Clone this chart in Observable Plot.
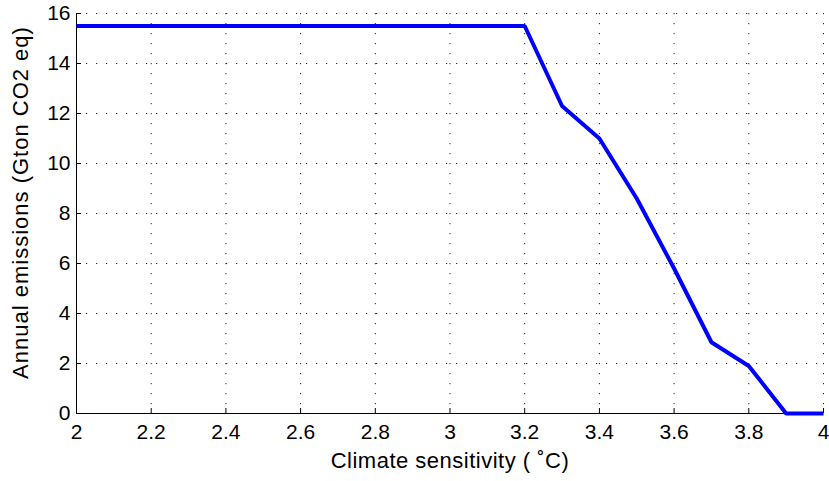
<!DOCTYPE html>
<html>
<head>
<meta charset="utf-8">
<script src="https://cdn.jsdelivr.net/npm/d3@7"></script>
<script src="https://cdn.jsdelivr.net/npm/@observablehq/plot@0.6"></script>
<style>
  html, body { margin: 0; padding: 0; background: #fff; }
  #chart svg { display: block; }
  #chart svg text { font-family: 'Liberation Sans', Arial, Helvetica, sans-serif; }
  .y-title text { letter-spacing: 1px; }
  .x-title text { letter-spacing: 0.5px; }
</style>
</head>
<body>
<div id="chart"></div>
<script>
const sensitivity = [2.0, 2.1, 2.2, 2.3, 2.4, 2.5, 2.6, 2.7, 2.8, 2.9, 3.0, 3.1, 3.2, 3.3, 3.4, 3.5, 3.6, 3.7, 3.8, 3.9, 4.0];
const emissions   = [15.5, 15.5, 15.5, 15.5, 15.5, 15.5, 15.5, 15.5, 15.5, 15.5, 15.5, 15.5, 15.5, 12.3, 11.0, 8.6, 5.8, 2.85, 1.9, 0, 0];
const xTicks = [2, 2.2, 2.4, 2.6, 2.8, 3, 3.2, 3.4, 3.6, 3.8, 4];
const yTicks = [0, 2, 4, 6, 8, 10, 12, 14, 16];
const xLabel = "Climate sensitivity ( ˚C)";
const yLabel = "Annual emissions (Gton CO2 eq)";

const data = sensitivity.map((s, i) => ({x: s, y: emissions[i]}));
const font = "'Liberation Sans', Arial, Helvetica, sans-serif";

const chart = Plot.plot({
  width: 829,
  height: 481,
  marginLeft: 76,
  marginRight: 6,
  marginTop: 13,
  marginBottom: 68,
  style: {fontFamily: font, fontSize: "21px", color: "#000", background: "#fff"},
  x: {domain: [2, 4]},
  y: {domain: [0, 16]},
  marks: [
    Plot.gridX(xTicks, {stroke: "#222", strokeOpacity: 1, strokeDasharray: "1.2,8.8", strokeWidth: 1}),
    Plot.gridY(yTicks, {stroke: "#222", strokeOpacity: 1, strokeDasharray: "1.2,8.8", strokeWidth: 1}),
    Plot.axisX(xTicks, {tickSize: 0, tickPadding: 11, tickFormat: d => String(d), fontSize: 21, label: null}),
    Plot.axisY(yTicks, {tickSize: 0, tickPadding: 6, tickFormat: d => String(d), fontSize: 21, label: null}),
    Plot.tickX(xTicks, {x: d => d, stroke: "#000", insetTop: 395}),
    Plot.tickY(yTicks, {y: d => d, stroke: "#000", insetRight: 742}),
    Plot.ruleX([2], {stroke: "#000", strokeWidth: 1}),
    Plot.ruleY([0], {stroke: "#000", strokeWidth: 1}),
    Plot.line(data, {x: "x", y: "y", stroke: "#0000ff", strokeWidth: 4, strokeLinejoin: "miter", strokeLinecap: "butt"}),
    Plot.text([xLabel], {frameAnchor: "bottom", dy: 54, fontSize: 22, text: d => d, className: "x-title"}),
    Plot.text([yLabel], {frameAnchor: "left", dx: -56, dy: -11, rotate: -90, textAnchor: "middle", fontSize: 22, text: d => d, className: "y-title"})
  ]
});
document.getElementById("chart").appendChild(chart);
</script>
</body>
</html>
